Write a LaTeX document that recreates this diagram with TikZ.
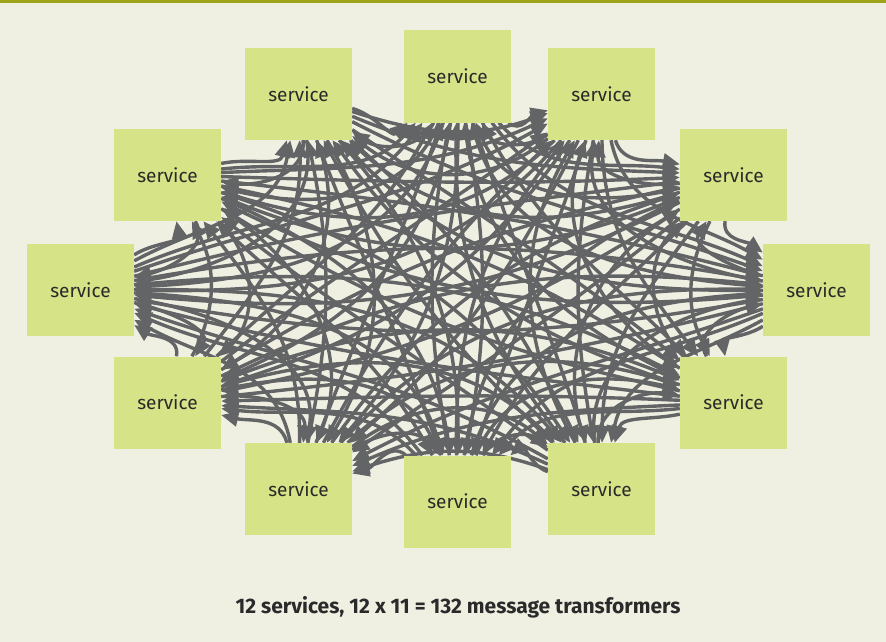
\documentclass[tikz,border=0pt]{standalone}
\usepackage{fontspec}
\setmainfont{Fira Sans}
\usetikzlibrary{arrows.meta}
\definecolor{bgcream}{HTML}{EFF0E2}
\definecolor{topbar}{HTML}{9EA41A}
\definecolor{boxgreen}{HTML}{D6E387}
\definecolor{linkgray}{HTML}{636466}
\definecolor{inkdark}{HTML}{2A2A2A}
\pgfdeclarelayer{backdrop}
\pgfdeclarelayer{links}
\pgfsetlayers{backdrop,links,main}
\tikzset{
  svc/.style={fill=boxgreen, draw=none, minimum width=107pt, minimum height=92pt,
    inner sep=0pt, font=\fontsize{19}{22}\selectfont, text=inkdark},
  link/.style={draw=linkgray, line width=3.4pt,
    -{Triangle[length=17pt,width=15pt]}},
}
% centres of the services (x right, y down), clockwise from the top
\def\SX{{457.5,601.5,733.5,816.5,733.5,601.5,457.5,298.5,167.5,80.5,167.5,298.5}}
\def\SY{{76.5,94,175,290,402.5,489,501.5,489,402.5,290,175,94}}
\def\CX{457}\def\CY{290}
\def\pull{0.45}  % how far a curve leaves towards its target rather than the ring centre
\def\spread{10}  % angular offset separating the two curves of a pair
\begin{document}
\begin{tikzpicture}[x=1pt,y=-1pt]
  % canvas and top rule
  \begin{pgfonlayer}{backdrop}
    \fill[bgcream] (0,0) rectangle (886,642);
    \fill[topbar] (0,0) rectangle (886,3);
  \end{pgfonlayer}
  \useasboundingbox (0,0) rectangle (886,642);

  % the twelve services
  \foreach \i in {0,...,11}{
    \pgfmathsetmacro\px{\SX[\i]}
    \pgfmathsetmacro\py{\SY[\i]}
    \node[svc] (s\i) at (\px,\py) {service};
  }

  % one transformer for every ordered pair of services; each curve leaves
  % and enters its boxes on the side facing the middle of the ring
  \begin{pgfonlayer}{links}
  \foreach \i in {0,...,11}{
    \foreach \j in {0,...,11}{
      \ifnum\i=\j\else
        \pgfmathsetmacro\xa{\SX[\i]}
        \pgfmathsetmacro\ya{\SY[\i]}
        \pgfmathsetmacro\xb{\SX[\j]}
        \pgfmathsetmacro\yb{\SY[\j]}
        \pgfmathsetmacro\ti{atan2(\ya-\CY, \CX-\xa)}
        \pgfmathsetmacro\di{atan2(\ya-\yb, \xb-\xa)}
        \pgfmathsetmacro\tj{atan2(\yb-\CY, \CX-\xb)}
        \pgfmathsetmacro\dj{atan2(\yb-\ya, \xa-\xb)}
        \pgfmathsetmacro\aout{\ti + \pull*(mod(\di-\ti+540,360)-180) + \spread}
        \pgfmathsetmacro\ain{\tj + \pull*(mod(\dj-\tj+540,360)-180) - \spread}
        \draw[link] (s\i) to[out=\aout, in=\ain] (s\j);
      \fi
    }
  }
  \end{pgfonlayer}

  % caption
  \node[font=\fontsize{21}{24}\selectfont\bfseries, text=inkdark] (cap) at (458,607)
    {12 services, 12 x 11 = 132 message transformers};
\end{tikzpicture}
\end{document}
